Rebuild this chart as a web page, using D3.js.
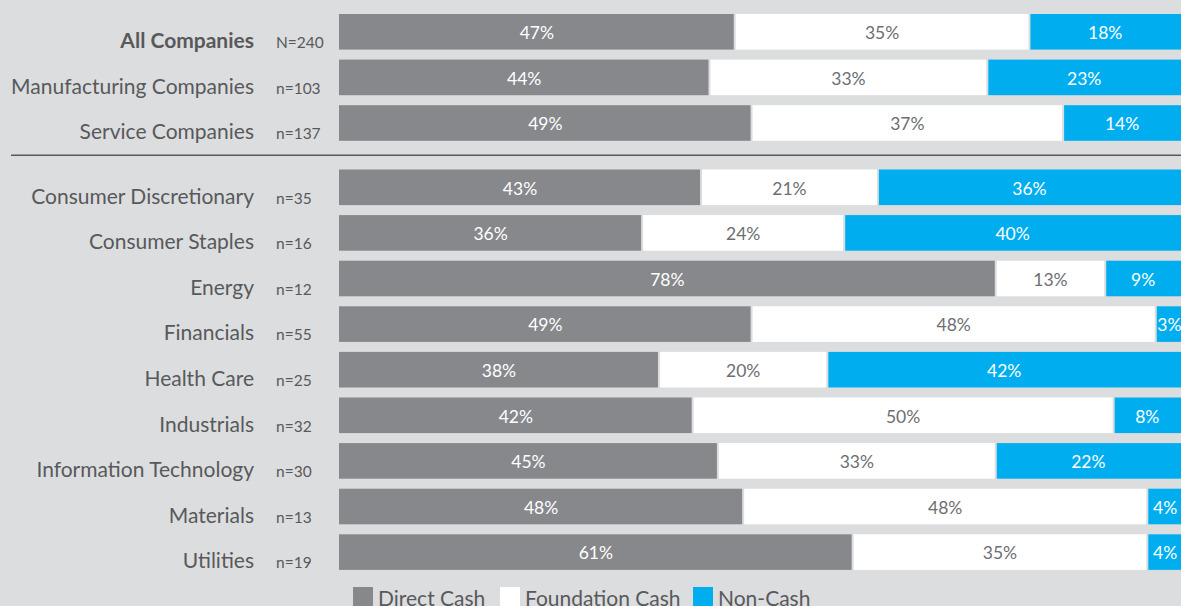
<!DOCTYPE html>
<html>
<head>
<meta charset="utf-8">
<script src="https://cdn.jsdelivr.net/npm/d3@7"></script>
<style>
  html, body { margin: 0; padding: 0; background: #dcdddf; overflow: hidden; }
  svg { display: block; }
</style>
</head>
<body>
<svg id="chart" width="1181" height="606"></svg>
<script>
// Row categories, sample sizes and the share of giving in each form (%)
const categories = [
  "All Companies", "Manufacturing Companies", "Service Companies",
  "Consumer Discretionary", "Consumer Staples", "Energy", "Financials",
  "Health Care", "Industrials", "Information Technology", "Materials", "Utilities"
];
const sampleSizes = [
  "N=240", "n=103", "n=137",
  "n=35", "n=16", "n=12", "n=55", "n=25", "n=32", "n=30", "n=13", "n=19"
];
const directCash     = [47, 44, 49, 43, 36, 78, 49, 38, 42, 45, 48, 61];
const foundationCash = [35, 33, 37, 21, 24, 13, 48, 20, 50, 33, 48, 35];
const nonCash        = [18, 23, 14, 36, 40,  9,  3, 42,  8, 22,  4,  4];

const seriesNames = ["Direct Cash", "Foundation Cash", "Non-Cash"];
const seriesColors = ["#87888c", "#ffffff", "#00aeef"];
const labelColors = ["#ffffff", "#6d6e71", "#ffffff"];

const W = 1181, H = 606;
const svg = d3.select("#chart");
const textColor = "#58595b";
const font = "Lato, 'Open Sans', sans-serif";

// horizontal scale across the bar area
const x = d3.scaleLinear().domain([0, 100]).range([339, 1181]);

// vertical slots: the three summary rows, then a gap, then the sectors
const slot = i => i < 3 ? i : i + 0.41;
const y = d3.scaleLinear().domain([0, 11.41]).range([14, 534.3]);
const barH = 35.6;

const rows = categories.map((c, i) => {
  const vals = [directCash[i], foundationCash[i], nonCash[i]];
  let acc = 0;
  const segs = vals.map((v, k) => {
    const s = { k, v, x0: acc, x1: acc + v };
    acc += v;
    return s;
  });
  return { c, n: sampleSizes[i], i, segs };
});

const g = svg.append("g");

const row = g.selectAll("g.row").data(rows).join("g")
  .attr("class", "row")
  .attr("transform", d => `translate(0,${y(slot(d.i))})`);

row.selectAll("rect").data(d => d.segs).join("rect")
  .attr("x", s => x(s.x0) + (s.k > 0 ? 1 : 0))
  .attr("y", 0)
  .attr("width", s => x(s.x1) - x(s.x0) - (s.k > 0 ? 1 : 0) - (s.k < 2 ? 1 : 0))
  .attr("height", barH)
  .attr("fill", s => seriesColors[s.k]);

row.selectAll("text.val").data(d => d.segs).join("text")
  .attr("class", "val")
  .attr("x", s => (x(s.x0) + x(s.x1)) / 2 + (s.k === 2 && s.v <= 4 ? 1 : 0))
  .attr("y", barH / 2 + 7.3)
  .attr("text-anchor", "middle")
  .attr("font-family", font)
  .attr("font-size", 17.5)
  .attr("fill", s => labelColors[s.k])
  .text(s => s.v + "%");

// category names
row.append("text")
  .attr("x", 254)
  .attr("y", barH - 1.5)
  .attr("text-anchor", "end")
  .attr("font-family", font)
  .attr("font-size", 21)
  .attr("font-weight", d => d.i === 0 ? 700 : 400)
  .attr("fill", textColor)
  .text(d => d.c);

// sample sizes
row.append("text")
  .attr("x", 276)
  .attr("y", barH - 1.5)
  .attr("font-family", font)
  .attr("font-size", 15.5)
  .attr("fill", textColor)
  .text(d => d.n);

// divider between summary rows and sectors
const divY = (y(slot(2)) + barH + y(slot(3))) / 2;
g.append("line")
  .attr("x1", 11).attr("x2", W)
  .attr("y1", divY).attr("y2", divY)
  .attr("stroke", "#58595b")
  .attr("stroke-width", 1.5);

// legend
const legendX = [353, 500, 693];
const legend = g.selectAll("g.leg").data(seriesNames).join("g")
  .attr("class", "leg")
  .attr("transform", (d, k) => `translate(${legendX[k]},587)`);
legend.append("rect")
  .attr("width", 20).attr("height", 20)
  .attr("fill", (d, k) => seriesColors[k]);
legend.append("text")
  .attr("x", 25).attr("y", 19)
  .attr("font-family", font)
  .attr("font-size", 21)
  .attr("fill", textColor)
  .text(d => d);
</script>
</body>
</html>
